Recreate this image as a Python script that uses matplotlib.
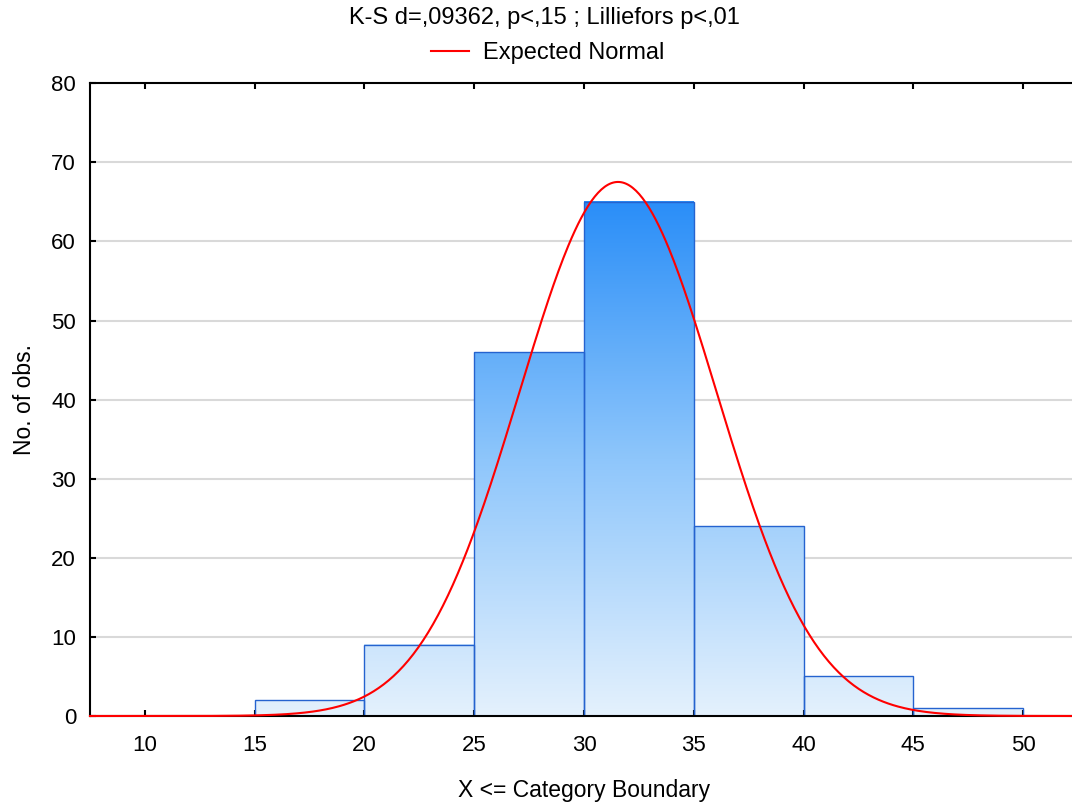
import numpy as np
import matplotlib
matplotlib.use("Agg")
import matplotlib.pyplot as plt
from matplotlib.colors import LinearSegmentedColormap
from matplotlib.patches import Rectangle
from matplotlib.lines import Line2D

plt.rcParams['font.family'] = ['Liberation Sans', 'DejaVu Sans']

# Data
bin_edges = [10, 15, 20, 25, 30, 35, 40, 45, 50]
counts = [0, 2, 9, 46, 65, 24, 5, 1]
normal_mean = 31.55
normal_sd = 4.49
x_ticks = [10, 15, 20, 25, 30, 35, 40, 45, 50]
y_ticks = [0, 10, 20, 30, 40, 50, 60, 70, 80]
title_text = "K-S d=,09362, p<,15 ; Lilliefors p<,01"
legend_label = "Expected Normal"
x_label = "X <= Category Boundary"
y_label = "No. of obs."

W, H = 1072, 802
fig = plt.figure(figsize=(W / 100, H / 100), dpi=100)
ax = fig.add_axes([90 / W, (H - 716) / H, (1078 - 90) / W, (716 - 83.3) / H])
ax.set_xlim(7.5, 52.5)
ax.set_ylim(0, 80)

# grid
for yv in y_ticks[1:-1]:
    ax.axhline(yv, color='#d9d9d9', lw=1.5, zorder=0)

cmap = LinearSegmentedColormap.from_list('bl', ['#e4f1fd', '#8ec6fb', '#2a8ef8'])
vmax = max(counts)
for i, c in enumerate(counts):
    if c <= 0:
        continue
    l, r = bin_edges[i], bin_edges[i + 1]
    grad = np.linspace(0, c, 256).reshape(-1, 1)
    ax.imshow(grad, extent=(l, r, 0, c), origin='lower', cmap=cmap, vmin=0, vmax=vmax,
              aspect='auto', zorder=1, interpolation='bilinear')
    ax.add_patch(Rectangle((l, 0), r - l, c, fill=False, edgecolor='#2563cf', lw=1.0, zorder=2))

ax.set_xlim(7.5, 52.5)
ax.set_ylim(0, 80)

N = sum(counts)
bw = bin_edges[1] - bin_edges[0]
xs = np.linspace(7.5, 52.5, 600)
ys = N * bw / (normal_sd * np.sqrt(2 * np.pi)) * np.exp(-0.5 * ((xs - normal_mean) / normal_sd) ** 2)
ax.plot(xs, ys, color='#ff0000', lw=1.5, zorder=3, clip_on=False)

ax.set_xticks(x_ticks)
ax.set_yticks(y_ticks)
ax.tick_params(axis='x', direction='in', length=4, width=1.5, top=True, labelsize=16, pad=14)
ax.tick_params(axis='y', direction='in', length=4, width=1.5, labelsize=16, pad=10)
for s in ['left', 'bottom', 'top']:
    ax.spines[s].set_linewidth(1.5)
ax.spines['right'].set_visible(False)

ax.set_xlabel(x_label, fontsize=16.5, labelpad=16)
ax.set_ylabel(y_label, fontsize=16.5, labelpad=11)

fig.text(544 / W, 1 - 18 / H, title_text, ha='center', va='center', fontsize=17)
handle = Line2D([], [], color='#ff0000', lw=1.5)
fig.legend([handle], [legend_label], loc='center', bbox_to_anchor=(548 / W, 1 - 53 / H),
           frameon=False, fontsize=17, handlelength=1.6, handletextpad=0.6)

fig.savefig('out.png', dpi=100)
